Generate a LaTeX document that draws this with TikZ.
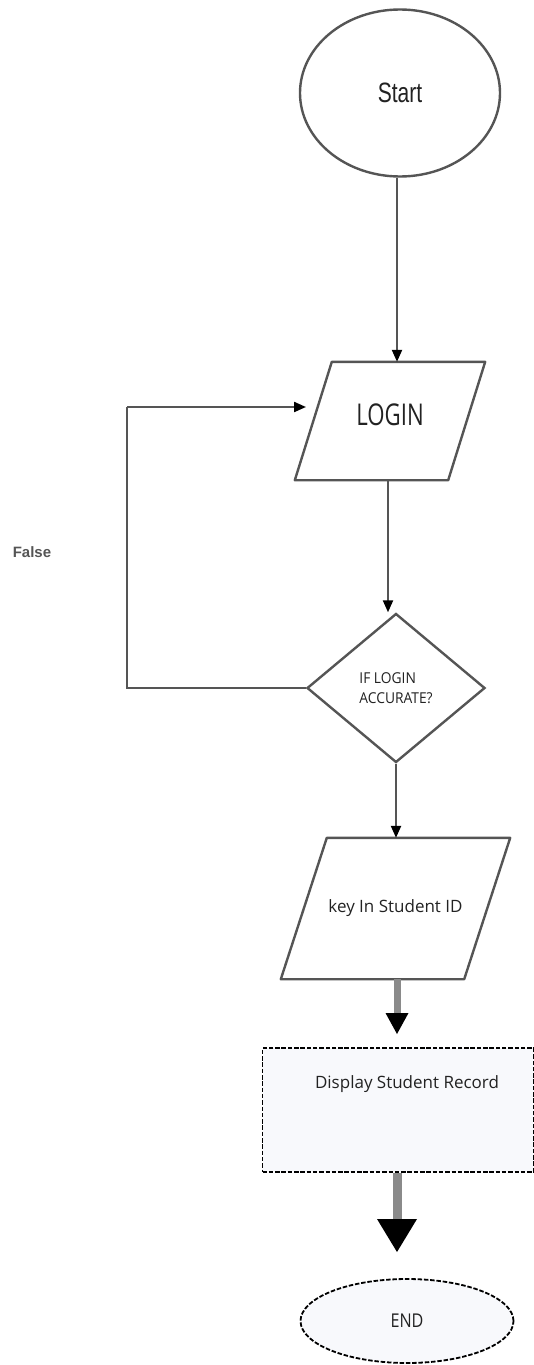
\documentclass[tikz,border=0pt]{standalone}
\usepackage{fontspec}
\setmainfont{Open Sans}
\newfontfamily\arialf{Liberation Sans}
\usetikzlibrary{shapes.geometric,arrows.meta}
\definecolor{edgegray}{HTML}{555555}
\definecolor{shaftgray}{HTML}{8A8A8A}
\definecolor{paleblue}{HTML}{F8F9FC}
\definecolor{txt}{HTML}{222222}
\tikzset{
  outline/.style={draw=edgegray, line width=2.4pt, fill=white, inner sep=0pt},
  parabox/.style={rectangle, inner sep=0pt},
  paraline/.style={draw=edgegray, line width=2.4pt, line join=round},
  dashbox/.style={draw=black, line width=1.8pt, dash pattern=on 4.5pt off 1.8pt, fill=paleblue, inner sep=0pt},
  conn/.style={draw=edgegray, line width=2.2pt, -{Triangle[width=10pt,length=12pt,color=black]}},
  loopline/.style={draw=edgegray, line width=2.2pt},
  fatarrow/.style={draw=shaftgray, line width=7pt},
}
\begin{document}
\begin{tikzpicture}[x=1pt,y=-1pt]
\useasboundingbox (0,0) rectangle (534,1365);

% Start
\node[outline, ellipse, minimum width=200pt, minimum height=167pt,
      font=\arialf\fontsize{28}{30}\selectfont, text=txt] (start) at (400,93)
      {\scalebox{0.75}[1]{Start}};

% LOGIN
\node[parabox, minimum width=190pt, minimum height=118pt,
      font=\fontsize{30}{32}\selectfont, text=txt, text depth=12pt] (login) at (390,421)
      {\scalebox{0.74}[1]{LOGIN}};
\draw[paraline] ([xshift=37pt]login.north west) -- (login.north east)
      -- ([xshift=-37pt]login.south east) -- (login.south west) -- cycle;

% Decision
\node[outline, diamond, minimum width=178pt, minimum height=149pt,
      font=\fontsize{15}{20}\selectfont, text=txt, align=left] (dec) at (396,688)
      {\scalebox{0.92}[1]{IF LOGIN}\\\scalebox{0.92}[1]{ACCURATE?}};

% Key in
\node[parabox, minimum width=229pt, minimum height=141pt,
      font=\fontsize{17}{20}\selectfont, text=txt] (key) at (395.5,908.5)
      {key In Student ID};
\draw[paraline] ([xshift=46pt]key.north west) -- (key.north east)
      -- ([xshift=-46pt]key.south east) -- (key.south west) -- cycle;

% Display
\node[dashbox, rectangle, minimum width=271pt, minimum height=124pt,
      font=\fontsize{17}{20}\selectfont, text=txt, align=center] (disp) at (398,1110)
      {\hspace*{18pt}Display Student Record\\[36pt]\mbox{}};

% END
\node[dashbox, ellipse, minimum width=213pt, minimum height=84pt,
      font=\fontsize{19}{20}\selectfont, text=txt] (end) at (407,1321)
      {\scalebox{0.85}[1]{END}};

% False label
\node[font=\arialf\bfseries\fontsize{15}{17}\selectfont, text=edgegray] (false) at (32,552) {False};

% connectors
\draw[conn] (start.south -| 397,0) -- (397,0 |- login.north);
\draw[conn] (388,0 |- login.south) -- (388,0 |- dec.north);
\draw[conn] (dec.south) -- (dec.south |- key.north);

\coordinate (lp) at (127,407);
\coordinate (loopend) at (306,407);
\draw[loopline] (dec.west) -| (lp);
\draw[conn] (lp) -- (loopend);

% fat arrows
\coordinate (t1) at (397,1034);
\draw[fatarrow] (key.south -| t1) -- ([yshift=19pt]t1);
\fill[black] (t1) -- ([shift={(-11.5,-21)}]t1) -- ([shift={(11.5,-21)}]t1) -- cycle;

\coordinate (t2) at (397,1252);
\draw[fatarrow, line width=9pt] (disp.south -| t2) -- ([yshift=31pt]t2);
\fill[black] (t2) -- ([shift={(-20,-33)}]t2) -- ([shift={(20,-33)}]t2) -- cycle;
\end{tikzpicture}
\end{document}
